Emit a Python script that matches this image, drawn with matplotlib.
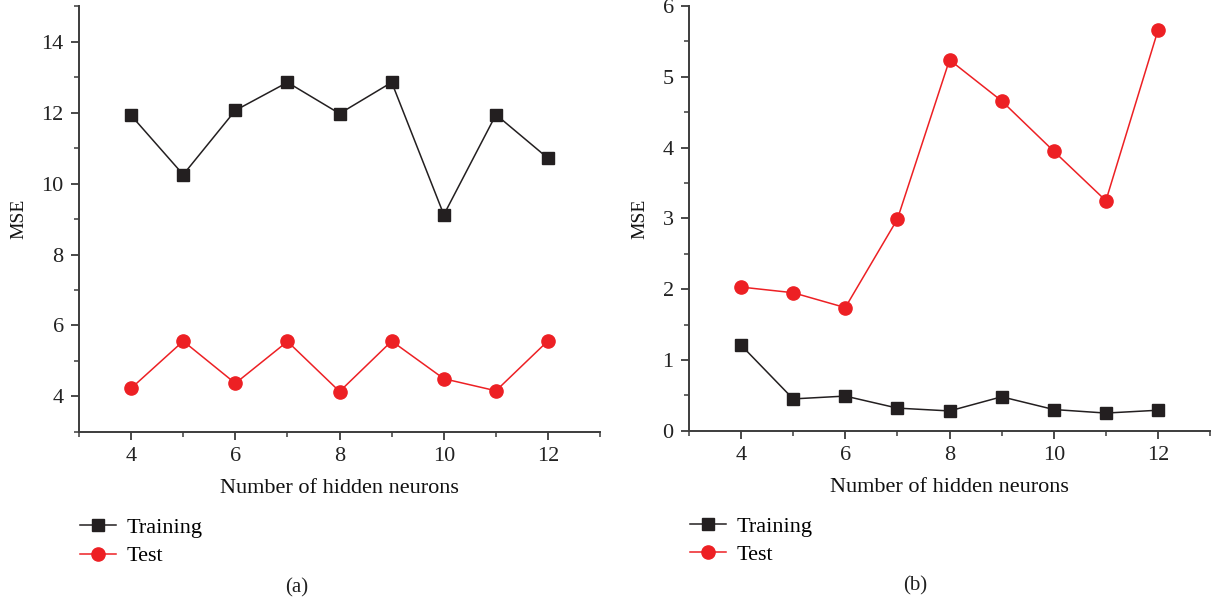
import matplotlib
matplotlib.use('Agg')
import matplotlib.pyplot as plt
from matplotlib.ticker import MultipleLocator

plt.rcParams['font.family'] = ['Liberation Serif', 'DejaVu Serif']
plt.rcParams['font.size'] = 16

# Data
neurons = [4, 5, 6, 7, 8, 9, 10, 11, 12]

# panel (a)
train_a = [11.92, 10.25, 12.06, 12.85, 11.97, 12.85, 9.12, 11.94, 10.71]
test_a = [4.23, 5.56, 4.37, 5.55, 4.14, 5.56, 4.50, 4.16, 5.57]

# panel (b)
train_b = [1.21, 0.45, 0.49, 0.32, 0.28, 0.48, 0.30, 0.25, 0.29]
test_b = [2.03, 1.95, 1.74, 2.99, 5.24, 4.66, 3.95, 3.25, 5.66]

black = '#231f20'
red = '#ed2024'
axis_col = '#3c3c3c'

fig = plt.figure(figsize=(12.15, 6.05), dpi=100)
ax1 = fig.add_axes([0.065, 0.286, 0.429, 0.704])
ax2 = fig.add_axes([0.567, 0.288, 0.429, 0.702])


def style_axes(ax, ylim, ymajor, yminor):
    ax.set_xlim(3, 13)
    ax.set_ylim(*ylim)
    ax.xaxis.set_major_locator(MultipleLocator(2))
    ax.xaxis.set_minor_locator(MultipleLocator(1))
    ax.yaxis.set_major_locator(MultipleLocator(ymajor))
    ax.yaxis.set_minor_locator(MultipleLocator(yminor))
    for s in ['top', 'right']:
        ax.spines[s].set_visible(False)
    for s in ['left', 'bottom']:
        ax.spines[s].set_color(axis_col)
        ax.spines[s].set_linewidth(1.4)
    ax.tick_params(which='major', direction='out', length=6, width=1.3,
                   color=axis_col, labelcolor='#222222', labelsize=16)
    ax.tick_params(axis='x', which='major', pad=5)
    ax.tick_params(axis='y', which='major', pad=5)
    ax.tick_params(which='minor', direction='out', length=3.5, width=1.1,
                   color=axis_col)
    ax.set_xlabel('Number of hidden neurons', fontsize=16, color='#111111',
                  labelpad=9)
    ax.set_ylabel('MSE', fontsize=14, color='#111111', labelpad=10)


for ax, tr, te in [(ax1, train_a, test_a), (ax2, train_b, test_b)]:
    ax.plot(neurons, tr, color=black, lw=1.1, marker='s', markersize=8.5,
            markerfacecolor=black, markeredgecolor=black, label='Training',
            clip_on=False)
    ax.plot(neurons, te, color=red, lw=1.1, marker='o', markersize=9.5,
            markerfacecolor=red, markeredgecolor=red, label='Test',
            clip_on=False)

style_axes(ax1, (3, 15), 2, 1)
style_axes(ax2, (0, 6), 1, 0.5)

for ax, tag, tx in [(ax1, '(a)', 0.418), (ax2, '(b)', 0.434)]:
    ax.legend(loc='upper left', bbox_to_anchor=(-0.015, -0.18),
              frameon=False, handlelength=1.6, handletextpad=0.5,
              labelspacing=0.35, fontsize=16, borderaxespad=0)
    ax.text(tx, -0.365, tag, transform=ax.transAxes, ha='center',
            va='center', fontsize=15, color='#222222')

fig.savefig('out.png', dpi=100)
